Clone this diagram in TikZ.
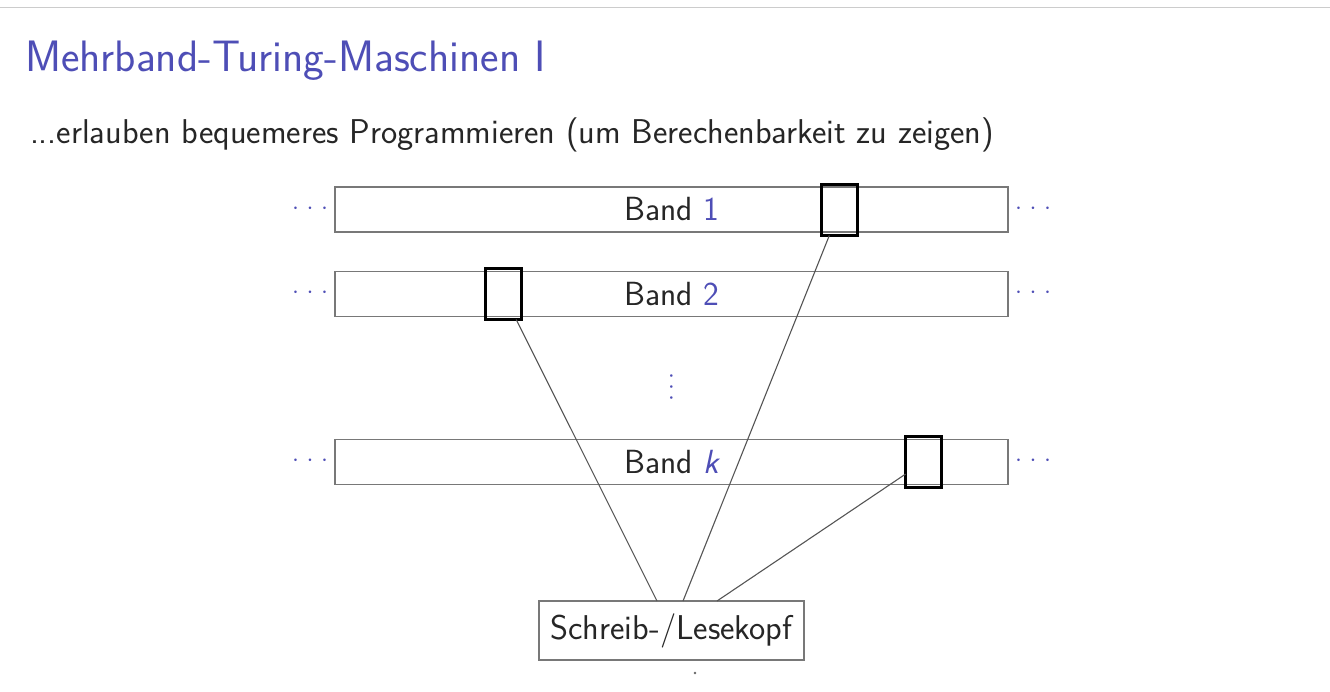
\documentclass[tikz,border=0pt]{standalone}
\usepackage{fontspec}
\usetikzlibrary{calc}
\definecolor{structure}{RGB}{78,78,182}
\definecolor{bandline}{RGB}{120,120,120}
\definecolor{wire}{RGB}{85,85,85}
\newcommand{\hdotsrow}{$\cdotp\mkern2.5mu\cdotp\mkern2.5mu\cdotp$}
\newcommand{\vdotsrow}{$\cdotp\mkern0.3mu\cdotp\mkern0.3mu\cdotp$}
\begin{document}
\begin{tikzpicture}[x=1pt,y=-1pt,
  every node/.style={inner sep=0pt,outer sep=0pt,text=black!85,font=\sffamily\fontsize{34.4}{40}\selectfont},
  tape/.style={draw=bandline,line width=1.3pt,minimum width=673pt,minimum height=45pt,font=\sffamily\fontsize{33.5}{40}\selectfont},
  headbox/.style={draw=black,line width=3.2pt,minimum width=36pt,minimum height=51pt},
  kopfbox/.style={draw=bandline,line width=1.3pt,minimum width=265pt,minimum height=59pt},
  dotsl/.style={text=structure},
  wireline/.style={draw=wire,line width=1.1pt}]
\useasboundingbox (0,0) rectangle (1330,692);
% slide frame rule
\draw[black!20,line width=1pt] (0,7.5) -- (1330,7.5);
% title and lead text
\node[anchor=base west,text=structure,font=\sffamily\fontsize{44}{52}\selectfont] (title) at (25,72) {Mehrband-Turing-Maschinen I};
\node[anchor=base west] (lead) at (30,144) {...erlauben bequemeres Programmieren (um Berechenbarkeit zu zeigen)};
% tapes
\node[tape] (b1) at (671.5,209.5) {Band {\color{structure}1}};
\node[tape] (b2) at (671.5,294) {Band {\color{structure}2}};
\node[tape] (bk) at (671.5,462) {Band {\color{structure}\itshape k}};
% continuation dots
\node[dotsl] (l1) at (310,209) {\hdotsrow};
\node[dotsl] (r1) at (1033,209) {\hdotsrow};
\node[dotsl] (l2) at (310,293) {\hdotsrow};
\node[dotsl] (r2) at (1033,293) {\hdotsrow};
\node[dotsl] (lk) at (310,461) {\hdotsrow};
\node[dotsl] (rk) at (1033,461) {\hdotsrow};
\node[dotsl,rotate=90] (vd) at (672,387) {\vdotsrow};
% head positions
\node[headbox] (h1) at (839.5,210) {};
\node[headbox] (h2) at (503.5,294) {};
\node[headbox] (hk) at (923.5,462) {};
% read/write head unit
\node[kopfbox] (kopf) at (671.5,630.5) {Schreib-/Lesekopf};
\coordinate (k2) at ($(kopf.north)+(-14.5,0)$);
\coordinate (k1) at ($(kopf.north)+(11.5,0)$);
\coordinate (kk) at ($(kopf.north)+(45.5,0)$);
\draw[wireline] (h2) -- (k2);
\draw[wireline] (h1) -- (k1);
\draw[wireline] (hk) -- (kk);
\fill[black!60] (695,673) circle (1.3);
\end{tikzpicture}
\end{document}
